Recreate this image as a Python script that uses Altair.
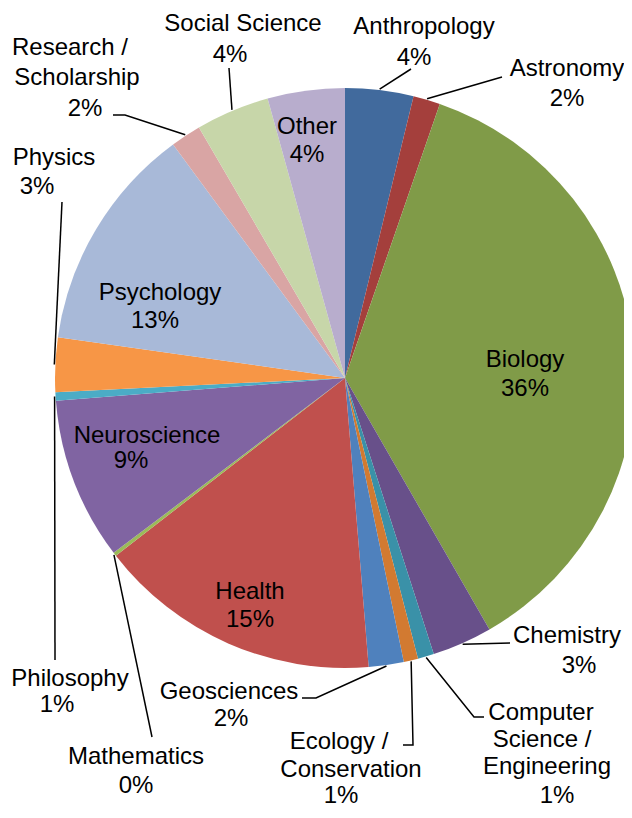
import math
import altair as alt
import pandas as pd

# ---------------- data ----------------
categories = [
    "Anthropology", "Astronomy", "Biology", "Chemistry",
    "Computer Science / Engineering", "Ecology / Conservation", "Geosciences",
    "Health", "Mathematics", "Neuroscience", "Philosophy", "Physics",
    "Psychology", "Research / Scholarship", "Social Science", "Other",
]
values = [3.8, 1.5, 36.4, 3.35, 0.9, 0.8, 1.95, 15.8, 0.2, 9.05, 0.47, 3.03,
          12.65, 1.7, 4.1, 4.3]
pct_labels = ["4%", "2%", "36%", "3%", "1%", "1%", "2%", "15%", "0%", "9%",
              "1%", "3%", "13%", "2%", "4%", "4%"]
name_lines = [
    ["Anthropology"], ["Astronomy"], ["Biology"], ["Chemistry"],
    ["Computer", "Science /", "Engineering"], ["Ecology /", "Conservation"],
    ["Geosciences"], ["Health"], ["Mathematics"], ["Neuroscience"],
    ["Philosophy"], ["Physics"], ["Psychology"], ["Research /", "Scholarship"],
    ["Social Science"], ["Other"],
]
colors = [
    "#416A9D", "#A43F3C", "#809B48", "#68508A", "#3A91A8", "#D27A31",
    "#4F81BD", "#C0504D", "#9BBB59", "#8064A2", "#4BACC6", "#F79646",
    "#A8B9D8", "#D9A5A4", "#C7D6A9", "#B8ADCD",
]

# ---------------- layout (page pixels) ----------------
W, H = 616, 800
OFF = 8                      # page margin
CX, CY = 345 - OFF, 378 - OFF  # pie centre in chart coords
R = 290

# label line anchors: centre x, baseline y (page coords), one per text line
label_pos = [
    [(424, 34), (414, 65)],
    [(567, 76), (567, 106)],
    [(525, 367), (525, 396)],
    [(567, 643), (579, 673)],
    [(541, 720), (542, 747), (547, 774), (557, 803)],
    [(339, 749), (351, 777), (341, 803)],
    [(229, 699), (231, 726)],
    [(250, 599), (250, 627)],
    [(136, 764), (136, 793)],
    [(147, 443), (131, 468)],
    [(70, 686), (57, 712)],
    [(54, 165), (37, 194)],
    [(160, 300), (155, 328)],
    [(70, 55), (77, 85), (85, 116)],
    [(243, 31), (230, 62)],
    [(307, 134), (307, 162)],
]
# leader line points after the slice anchor (page coords); None = no leader
leader_pts = [
    [(411, 69)],
    [(502, 77)],
    None,
    [(510, 643)],
    [(474, 717), (484, 717)],
    [(413, 745), (403, 745)],
    [(316, 698), (302, 698)],
    None,
    [(152, 737)],
    None,
    [(55, 660)],
    [(62, 202)],
    None,
    [(125, 115), (113, 115)],
    [(229, 68)],
    None,
]

# ---------------- tables ----------------
slices = pd.DataFrame({
    "cat": categories,
    "value": values,
    "order": list(range(len(categories))),
})

rows = []
for lines, pct, pos in zip(name_lines, pct_labels, label_pos):
    for t, (x, y) in zip(lines + [pct], pos):
        rows.append({"text": t, "x": x - OFF, "y": y - OFF})
texts = pd.DataFrame(rows)

total = sum(values)
lead_rows = []
cum = 0.0
for cat, v, pts in zip(categories, values, leader_pts):
    mid = cum + v / 2
    cum += v
    if pts is None:
        continue
    a = 2 * math.pi * mid / total
    sx = CX + (R + 1) * math.sin(a)
    sy = CY - (R + 1) * math.cos(a)
    lead_rows.append({"cat": cat, "i": 0, "x": sx, "y": sy})
    for k, (x, y) in enumerate(pts, start=1):
        lead_rows.append({"cat": cat, "i": k, "x": x - OFF, "y": y - OFF})
leaders = pd.DataFrame(lead_rows)

xs = alt.Scale(domain=[0, W], range=[0, W], nice=False, zero=False)
ys = alt.Scale(domain=[0, H], range=[0, H], nice=False, zero=False)

pie = alt.Chart(slices).mark_arc(outerRadius=R, stroke=None).encode(
    theta=alt.Theta("value:Q", stack=True),
    order=alt.Order("order:Q"),
    color=alt.Color("cat:N", scale=alt.Scale(domain=categories, range=colors),
                    legend=None),
    x=alt.value(CX),
    y=alt.value(CY),
)

lines = alt.Chart(leaders).mark_line(color="black", strokeWidth=1.5).encode(
    x=alt.X("x:Q", scale=xs, axis=None),
    y=alt.Y("y:Q", scale=ys, axis=None),
    detail="cat:N",
    order="i:Q",
)

labels = alt.Chart(texts).mark_text(
    font="Liberation Sans", fontSize=24, align="center",
    baseline="alphabetic", color="black",
).encode(
    x=alt.X("x:Q", scale=xs, axis=None),
    y=alt.Y("y:Q", scale=ys, axis=None),
    text="text:N",
)

chart = alt.layer(pie, lines, labels).properties(
    width=W, height=H, padding=0,
    autosize=alt.AutoSizeParams(type="none"),
).configure_view(stroke=None)

chart.save("out.html", embed_options={"renderer": "svg", "actions": False})
